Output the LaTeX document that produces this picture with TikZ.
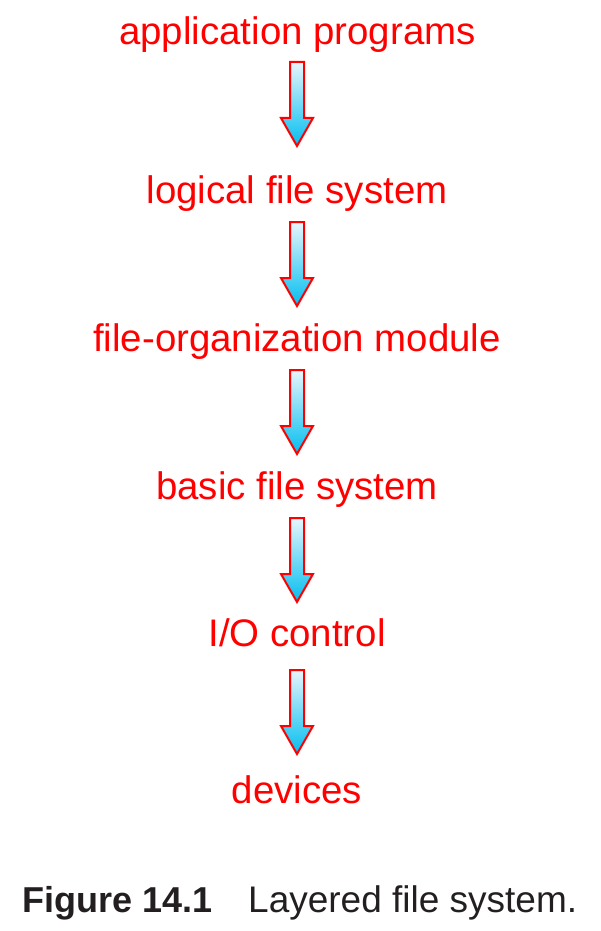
\documentclass[tikz,border=0pt]{standalone}
\usepackage{fontspec}
\setmainfont{Liberation Sans}
\definecolor{labred}{RGB}{255,0,0}
\definecolor{arrtop}{RGB}{232,246,252}
\definecolor{arrbot}{RGB}{0,190,240}
\definecolor{capgray}{RGB}{35,31,32}
\begin{document}
\begin{tikzpicture}[x=1pt,y=-1pt,
  layer/.style={anchor=base,text=labred,font=\fontsize{38.4}{40}\selectfont,inner sep=0pt},
  captext/.style={anchor=base west,text=capgray,font=\fontsize{37}{39}\selectfont,inner sep=0pt},
  blockarrow/.pic={
    \path[draw=labred,line width=2pt,line join=miter,top color=arrtop,bottom color=arrbot]
      (-7,0) -- (7,0) -- (7,56) -- (16,56) -- (0,84) -- (-16,56) -- (-7,56) -- cycle;
  }]
\useasboundingbox (0,0) rectangle (600,931);
\node[layer] (l1) at (297.5,45) {application programs};
\node[layer] (l2) at (297,203) {logical file system};
\node[layer] (l3) at (297,351) {file-organization module};
\node[layer] (l4) at (297,499) {basic file system};
\node[layer] (l5) at (297,646) {I/O control};
\node[layer] (l6) at (297,803) {devices};
\pic at (297,62) {blockarrow};
\pic at (297,222) {blockarrow};
\pic at (297,370) {blockarrow};
\pic at (297,518) {blockarrow};
\pic at (297,670) {blockarrow};
\node[captext,font=\bfseries\fontsize{36}{38}\selectfont] (capa) at (22,912) {Figure 14.1};
\node[captext] (capb) at (248,912) {Layered file system.};
\end{tikzpicture}
\end{document}
